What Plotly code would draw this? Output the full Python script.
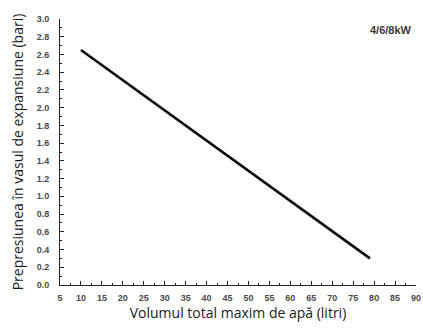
import plotly.graph_objects as go

# Maximum total water volume (litres) vs. expansion vessel pre-pressure (bar)
volume_l = [10, 79]
pressure_bar = [2.65, 0.3]

x_ticks = list(range(5, 95, 5))
y_ticks = [round(v * 0.2, 1) for v in range(0, 16)]

fig = go.Figure()
fig.add_trace(go.Scatter(
    x=volume_l, y=pressure_bar, mode="lines",
    line=dict(color="#0a0a0a", width=2.6),
    showlegend=False, hoverinfo="skip",
))

tick_font = dict(family="Liberation Sans, Arial, sans-serif", size=9,
                 color="#4a4a4a", weight="bold")
title_font = dict(family="Open Sans, Noto Sans, sans-serif", size=14, color="#1a1a1a")

fig.update_xaxes(
    range=[5, 90], tickvals=x_ticks, ticktext=[str(v) for v in x_ticks],
    showgrid=False, zeroline=False, showline=True, linecolor="#222222", linewidth=1,
    ticks="inside", ticklen=4, tickcolor="#222222", tickwidth=1,
    minor=dict(ticks="inside", dtick=2.5, tick0=5, ticklen=2, tickcolor="#222222"),
    tickfont=tick_font, ticklabelstandoff=4, ticklabeloverflow="allow",
    automargin=False,
    title=dict(text="Volumul total maxim de apă (litri)", font=title_font, standoff=6),
)
fig.update_yaxes(
    range=[0, 3.0], tickvals=y_ticks, ticktext=[f"{v:.1f}" for v in y_ticks],
    showgrid=False, zeroline=False, showline=True, linecolor="#222222", linewidth=1,
    ticks="inside", ticklen=4, tickcolor="#222222", tickwidth=1,
    minor=dict(ticks="inside", dtick=0.1, tick0=0, ticklen=2, tickcolor="#222222"),
    tickfont=tick_font, ticklabelstandoff=8, automargin=False,
    title=dict(text="Prepresiunea în vasul de expansiune (bari)", font=title_font, standoff=9),
)

fig.add_annotation(
    x=0.995, y=0.96, xref="paper", yref="paper", xanchor="right", yanchor="middle",
    text="4/6/8kW", showarrow=False,
    font=dict(family="Liberation Sans, Arial, sans-serif", size=11,
              color="#3a3a3a", weight="bold"),
)

fig.update_layout(
    width=423, height=328,
    margin=dict(l=60, r=7, t=19, b=43, autoexpand=False),
    paper_bgcolor="white", plot_bgcolor="white",
)

fig.write_html("out.html")
